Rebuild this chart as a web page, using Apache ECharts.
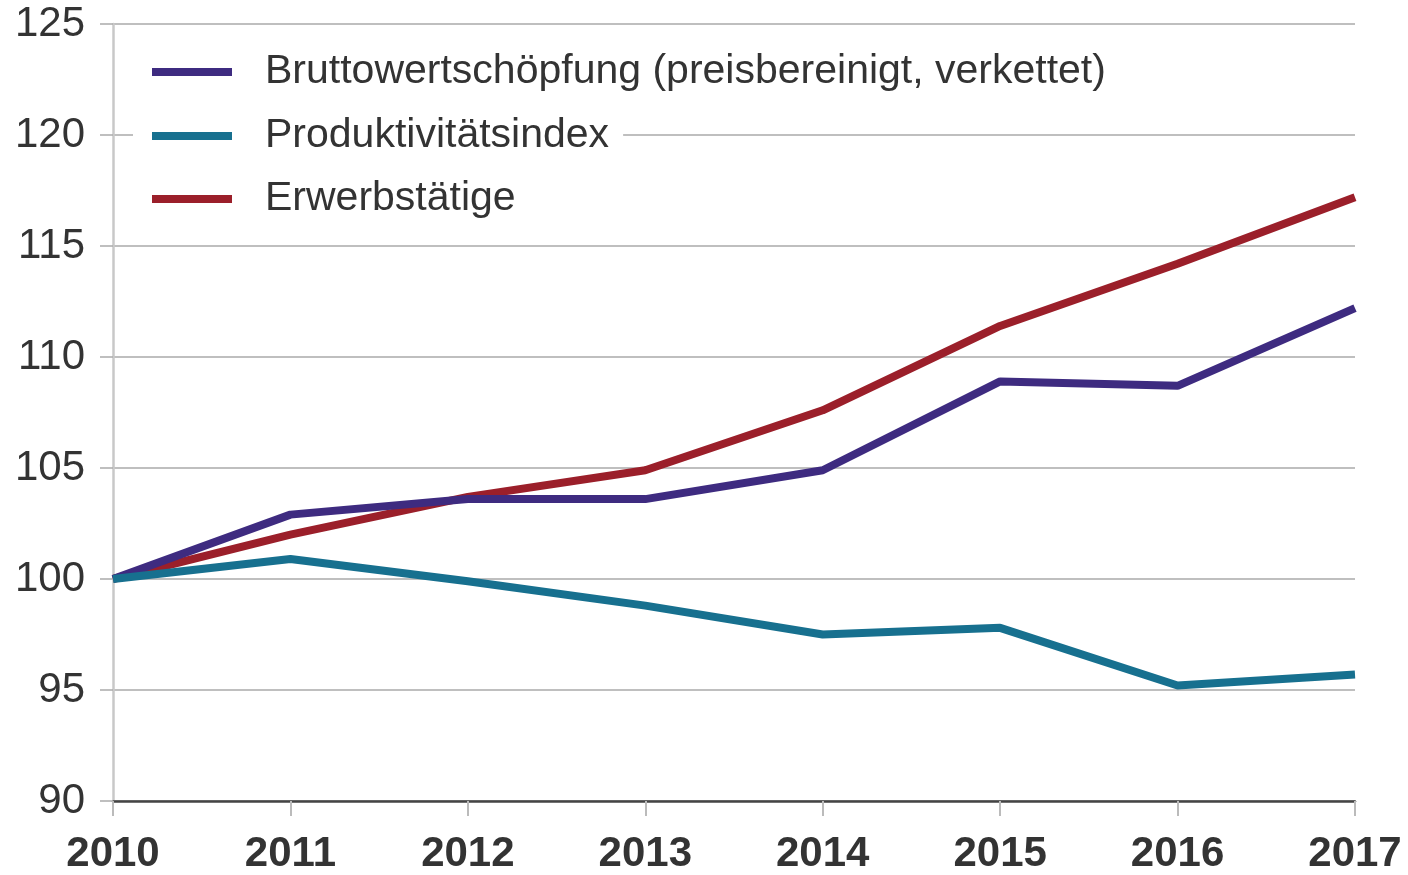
<!DOCTYPE html>
<html>
<head>
<meta charset="utf-8">
<script src="https://cdn.jsdelivr.net/npm/echarts@6/dist/echarts.min.js"></script>
<style>
  html, body { margin: 0; padding: 0; background: #fff; }
  #chart { width: 1408px; height: 875px; }
</style>
</head>
<body>
<div id="chart"></div>
<script>
// Jahre (x-Achse)
const years = ['2010', '2011', '2012', '2013', '2014', '2015', '2016', '2017'];

// Indexwerte, 2010 = 100
const bruttowertschoepfung = [100, 102.9, 103.6, 103.6, 104.9, 108.9, 108.7, 112.2];
const produktivitaet = [100, 100.9, 99.9, 98.8, 97.5, 97.8, 95.2, 95.7];
const erwerbstaetige = [100, 102.0, 103.7, 104.9, 107.6, 111.4, 114.2, 117.2];

const seriesNames = [
    'Bruttowertschöpfung (preisbereinigt, verkettet)',
    'Produktivitätsindex',
    'Erwerbstätige'
];
const colors = ['#3e2b80', '#17708f', '#9b1f2a'];

const font = 'Liberation Sans, Arial, sans-serif';

// je Eintrag eine eigene Legende mit weißem Hintergrund
const legendTops = [43, 107, 170];
const legends = seriesNames.map((name, i) => ({
    orient: 'vertical',
    left: 133,
    top: legendTops[i],
    backgroundColor: '#fff',
    padding: [4, 14, 4, 19],
    icon: 'rect',
    itemWidth: 80,
    itemHeight: 8,
    textStyle: {
        fontFamily: font,
        fontSize: 41,
        color: '#333',
        padding: [0, 0, 0, 28],
        lineHeight: 50
    },
    data: [name]
}));

const chart = echarts.init(document.getElementById('chart'));

const option = {
    animation: false,
    color: colors,
    grid: {
        left: 113,
        right: 53,
        top: 24,
        bottom: 72
    },
    legend: legends,
    xAxis: {
        type: 'category',
        data: years,
        boundaryGap: false,
        axisLine: { lineStyle: { color: '#444', width: 2.5 } },
        axisTick: {
            alignWithLabel: true,
            length: 15,
            lineStyle: { color: '#bbb', width: 2 }
        },
        axisLabel: {
            margin: 32,
            fontFamily: font,
            fontSize: 42,
            fontWeight: 'bold',
            color: '#333'
        }
    },
    yAxis: {
        type: 'value',
        min: 90,
        max: 125,
        interval: 5,
        axisLine: { show: true, lineStyle: { color: '#c8c8c8', width: 2.5 } },
        axisTick: {
            show: true,
            length: 13,
            lineStyle: { color: '#aaa', width: 1.5 }
        },
        splitLine: { lineStyle: { color: '#aaa', width: 1.5 } },
        axisLabel: {
            margin: 28,
            fontFamily: font,
            fontSize: 42,
            color: '#333'
        }
    },
    series: [
        {
            name: seriesNames[0],
            type: 'line',
            data: bruttowertschoepfung,
            showSymbol: false,
            lineStyle: { width: 8 },
            z: 3
        },
        {
            name: seriesNames[1],
            type: 'line',
            data: produktivitaet,
            showSymbol: false,
            lineStyle: { width: 8 },
            z: 4
        },
        {
            name: seriesNames[2],
            type: 'line',
            data: erwerbstaetige,
            showSymbol: false,
            lineStyle: { width: 8 },
            z: 2
        }
    ]
};

chart.setOption(option);
</script>
</body>
</html>
